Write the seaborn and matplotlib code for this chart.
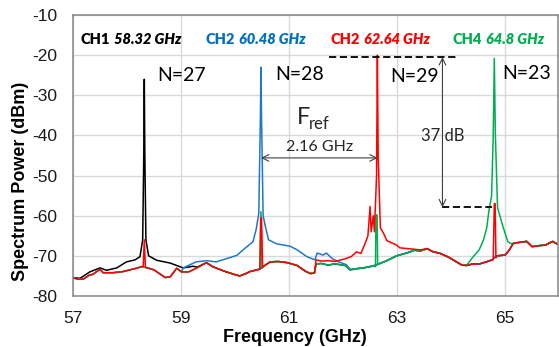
import numpy as np
import pandas as pd
import matplotlib
matplotlib.use("Agg")
import matplotlib.pyplot as plt
import seaborn as sns

# ---- noise floor shared by all traces (GHz, dBm) ----
base_freq = [57.00, 57.10, 57.19, 57.30, 57.37, 57.45, 57.50, 57.56, 57.74, 57.93,
             58.17, 58.27, 58.38, 58.50, 58.62, 58.71, 58.80, 58.92, 59.01, 59.14,
             59.28, 59.47, 59.59, 59.72, 59.84, 60.03, 60.09, 60.20, 60.28, 60.40,
             60.46, 60.55, 60.65, 60.80, 60.97, 61.15, 61.30, 61.39, 61.47, 61.50,
             61.60, 61.72, 61.85, 62.04, 62.13, 62.25, 62.38, 62.56, 62.70, 62.81,
             62.99, 63.20, 63.32, 63.43, 63.56, 63.65, 63.80, 63.95, 64.10, 64.20,
             64.29, 64.40, 64.53, 64.65, 64.76, 64.84, 65.00, 65.08, 65.15, 65.28,
             65.40, 65.50, 65.60, 65.75, 65.82, 65.88, 65.97]
base_power = [-75.5, -75.8, -75.8, -74.8, -74.6, -73.8, -73.4, -74.2, -74.2, -73.9,
              -73.1, -72.7, -73.0, -73.5, -74.6, -75.4, -75.2, -73.1, -74.0, -74.0,
              -73.1, -71.7, -72.7, -73.4, -74.0, -74.8, -75.0, -74.4, -73.9, -73.5,
              -73.3, -72.4, -71.5, -71.4, -71.7, -72.4, -73.8, -74.4, -74.3, -72.0,
              -71.9, -72.3, -72.0, -72.4, -73.5, -73.2, -73.0, -72.5, -71.8, -71.2,
              -70.0, -69.2, -68.6, -68.8, -68.2, -68.9, -69.4, -70.3, -71.5, -72.3,
              -72.4, -72.0, -72.0, -71.5, -71.0, -70.0, -69.8, -68.5, -66.9, -66.6,
              -66.4, -67.7, -67.5, -67.3, -66.8, -66.4, -67.1]

# ---- CH1 (58.32 GHz) skirt + carrier ----
ch1_freq = [57.00, 57.13, 57.31, 57.50, 57.62, 57.81, 57.99, 58.15, 58.24, 58.29,
            58.31, 58.32, 58.33, 58.35, 58.40, 58.55, 58.80, 59.04, 59.22, 59.30]
ch1_power = [-75.4, -75.6, -74.0, -73.0, -73.6, -73.0, -71.5, -71.0, -70.2, -66.0,
             -45.0, -26.0, -45.0, -66.0, -70.0, -71.1, -71.8, -73.0, -72.6, -72.8]

# ---- CH2 (60.48 GHz) skirt + carrier ----
ch2_freq = [59.04, 59.28, 59.47, 59.65, 59.84, 60.03, 60.15, 60.33, 60.39, 60.44,
            60.47, 60.48, 60.49, 60.52, 60.56, 60.62, 60.77, 61.02, 61.15, 61.33,
            61.48, 61.52, 61.63, 61.69, 61.81, 61.94, 62.06, 62.13]
ch2_power = [-73.0, -71.5, -71.2, -71.5, -70.7, -69.9, -68.5, -66.5, -63.5, -59.4,
             -35.0, -23.0, -35.0, -60.0, -62.6, -66.0, -67.0, -67.6, -68.5, -70.2,
             -71.0, -69.3, -69.8, -69.3, -70.8, -71.6, -72.2, -73.3]

# ---- CH3 (62.64 GHz) skirt + carrier, plus its residual spurs ----
ch3_freq = [61.50, 61.60, 61.72, 61.85, 62.02, 62.15, 62.25, 62.33, 62.42, 62.46,
            62.50, 62.52, 62.56, 62.58, 62.62, 62.635, 62.65, 62.69, 62.75, 62.81,
            62.99, 63.05, 63.20, 63.43]
ch3_power = [-71.0, -71.3, -71.2, -71.4, -70.8, -70.2, -69.0, -69.4, -66.5, -65.0,
             -57.7, -64.0, -60.0, -64.0, -50.0, -20.0, -45.0, -63.0, -64.4, -66.2,
             -67.3, -68.0, -68.2, -68.5]
ch3_spur1_freq = [58.30, 58.32, 58.34]
ch3_spur1_power = [-72.6, -66.0, -72.8]
ch3_spur2_freq = [60.46, 60.475, 60.49, 60.51]
ch3_spur2_power = [-73.3, -60.5, -60.5, -72.8]
ch3_spur4_freq = [64.78, 64.80, 64.815, 64.83]
ch3_spur4_power = [-71.0, -57.0, -57.0, -70.5]

# ---- CH4 (64.8 GHz) skirt + carrier, plus residual spurs ----
ch4_freq = [64.29, 64.41, 64.52, 64.60, 64.66, 64.70, 64.75, 64.78, 64.80, 64.82,
            64.86, 64.96, 65.05, 65.12]
ch4_power = [-72.3, -70.2, -68.5, -66.0, -63.0, -58.8, -55.0, -40.0, -20.8, -40.0,
             -58.0, -62.7, -66.5, -67.0]
ch4_spur2_freq = [60.46, 60.48, 60.50]
ch4_spur2_power = [-73.3, -59.0, -73.0]
ch4_spur3_freq = [62.60, 62.61, 62.63, 62.64]
ch4_spur3_power = [-72.7, -59.8, -59.8, -72.2]

colors = ["#000000", "#1f78c8", "#00b050", "#ff0000"]  # drawn black, blue, green, red


def splice(freq, power, *segments):
    """replace the floor inside each segment's span by the segment points"""
    f = np.array(freq, dtype=float)
    p = np.array(power, dtype=float)
    for seg_f, seg_p in segments:
        keep = (f < min(seg_f)) | (f > max(seg_f))
        f = np.concatenate([f[keep], seg_f])
        p = np.concatenate([p[keep], seg_p])
        order = np.argsort(f)
        f, p = f[order], p[order]
    return f, p


traces = {
    "CH1": splice(base_freq, base_power, (ch1_freq, ch1_power)),
    "CH2": splice(base_freq, base_power, (ch2_freq, ch2_power)),
    "CH4": splice(base_freq, base_power, (ch4_spur2_freq, ch4_spur2_power),
                  (ch4_spur3_freq, ch4_spur3_power), (ch4_freq, ch4_power)),
    "CH3": splice(base_freq, base_power, (ch3_spur1_freq, ch3_spur1_power),
                  (ch3_spur2_freq, ch3_spur2_power), (ch3_freq, ch3_power),
                  (ch3_spur4_freq, ch3_spur4_power)),
}

rows = []
for name, (f, p) in traces.items():
    rows.append(pd.DataFrame({"freq": f, "power": p, "trace": name}))
df = pd.concat(rows, ignore_index=True)

# ---- style ----
sns.set_theme(style="whitegrid")
plt.rcParams["font.family"] = ["Liberation Sans", "DejaVu Sans"]
plt.rcParams["axes.unicode_minus"] = False

fig = plt.figure(figsize=(5.59, 3.47), dpi=100)
ax = fig.add_axes([73 / 559, 1 - 296 / 347, 484.5 / 559, 281 / 347])

sns.lineplot(
    data=df, x="freq", y="power", hue="trace",
    hue_order=["CH1", "CH2", "CH4", "CH3"], palette=colors,
    estimator=None, sort=False, linewidth=1.1, legend=False, ax=ax,
)

ax.set_xlim(57, 65.97)
ax.set_ylim(-80, -10)
ax.set_xticks([57, 59, 61, 63, 65])
ax.set_yticks(np.arange(-80, -9, 10))
ax.grid(True, color="#d9d9d9", linewidth=1.0)
for s in ax.spines.values():
    s.set_color("#868686")
    s.set_linewidth(1.1)
ax.tick_params(axis="both", length=0, labelsize=12.5, labelcolor="#1a1a1a")
ax.tick_params(axis="y", pad=11)
ax.tick_params(axis="x", pad=11)

ax.set_xlabel("Frequency (GHz)", fontsize=13, fontweight="bold", color="#000000")
ax.set_ylabel("Spectrum Power (dBm)", fontsize=13, fontweight="bold", color="#000000")
ax.xaxis.set_label_coords(0.457, -0.118)
ax.yaxis.set_label_coords(-0.091, 0.409)

# ---- annotations ----
ann = ["Lato", "DejaVu Sans"]

# channel labels: bold name + bold italic frequency
ch_labels = [("CH1", "58.32 GHz", 57.13, "#000000"),
             ("CH2", "60.48 GHz", 59.46, "#0070c0"),
             ("CH2", "62.64 GHz", 61.76, "#ff0000"),
             ("CH4", "64.8 GHz", 64.03, "#00b050")]
for name, freq_txt, x0, c in ch_labels:
    t1 = ax.text(x0, -17.2, name, fontsize=10.5, fontweight="heavy", color=c,
                 family=ann, va="baseline")
    ax.annotate(freq_txt, xy=(1, 0), xycoords=t1, xytext=(3, 0),
                textcoords="offset points", fontsize=10.5, fontweight="heavy",
                fontstyle="italic", color=c, family=ann, va="bottom")

# harmonic numbers
n_labels = [("N=27", 58.56, -26.4), ("N=28", 60.74, -26.2),
            ("N=29", 62.87, -26.8), ("N=23", 64.94, -26.0)]
for txt, x0, y0 in n_labels:
    ax.text(x0, y0, txt, fontsize=14, family=ann, color="#000000", va="baseline")

# reference frequency
ax.text(61.15, -37.2, "F", fontsize=17, family=ann, va="baseline")
ax.text(61.37, -38.3, "ref", fontsize=12, family=ann, va="baseline")

# channel spacing arrow
ax.annotate("", xy=(60.48, -45.6), xytext=(62.64, -45.6),
            arrowprops=dict(arrowstyle="<->", color="#404040", lw=0.8,
                            shrinkA=0, shrinkB=0))
ax.text(61.57, -44.0, "2.16 GHz", fontsize=11.5, family=ann, ha="center",
        va="baseline")

# 37 dB suppression marker
ax.plot([61.74, 64.13], [-20.5, -20.5], color="#000000", lw=1.3, ls=(0, (4, 2)))
ax.plot([63.83, 64.75], [-57.9, -57.9], color="#000000", lw=1.3, ls=(0, (4, 2)))
ax.annotate("", xy=(63.84, -20.5), xytext=(63.84, -57.9),
            arrowprops=dict(arrowstyle="<->", color="#404040", lw=0.8,
                            shrinkA=0, shrinkB=0))
ax.text(63.84, -41.5, "37 dB", fontsize=12, family=ann, ha="center",
        va="baseline")

fig.savefig("out.png", dpi=100)
